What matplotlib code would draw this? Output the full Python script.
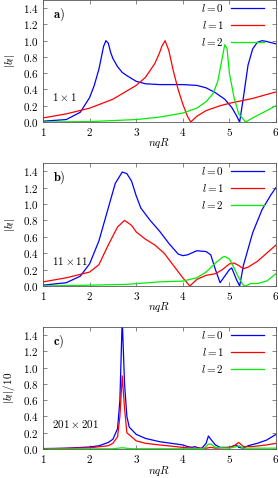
import matplotlib
matplotlib.use("Agg")
import matplotlib.pyplot as plt
from matplotlib.ticker import FuncFormatter, MultipleLocator

plt.rcParams['mathtext.fontset'] = 'cm'
plt.rcParams['font.family'] = ['DejaVu Serif']

# ---- panel a (1x1) ----
a_x0 = [1.0, 1.5, 1.8, 2.0, 2.1, 2.2, 2.3, 2.35, 2.4, 2.45, 2.5, 2.6, 2.7, 2.8, 3.0, 3.2, 3.5, 4.0, 4.3, 4.5, 4.7, 4.9, 5.05, 5.15, 5.22, 5.3, 5.4, 5.5, 5.6, 5.7, 5.8, 6.0]
a_y0 = [0.01, 0.03, 0.12, 0.30, 0.45, 0.65, 0.93, 1.00, 0.97, 0.86, 0.78, 0.68, 0.61, 0.57, 0.50, 0.47, 0.46, 0.46, 0.45, 0.42, 0.36, 0.28, 0.18, 0.08, 0.00, 0.30, 0.70, 0.90, 0.98, 1.00, 0.99, 0.96]
a_x1 = [1.0, 1.5, 2.0, 2.5, 3.0, 3.2, 3.4, 3.5, 3.55, 3.62, 3.7, 3.8, 3.9, 4.0, 4.1, 4.17, 4.3, 4.5, 4.8, 5.0, 5.5, 6.0]
a_y1 = [0.05, 0.10, 0.17, 0.28, 0.45, 0.55, 0.72, 0.85, 0.93, 1.00, 0.88, 0.62, 0.40, 0.22, 0.07, 0.00, 0.07, 0.14, 0.20, 0.23, 0.29, 0.37]
a_x2 = [1.0, 2.0, 3.0, 3.5, 4.0, 4.3, 4.5, 4.65, 4.75, 4.85, 4.9, 4.95, 5.0, 5.1, 5.2, 5.35, 5.5, 5.7, 6.0]
a_y2 = [0.0, 0.005, 0.03, 0.06, 0.11, 0.17, 0.25, 0.35, 0.50, 0.80, 0.95, 0.90, 0.60, 0.30, 0.10, 0.00, 0.05, 0.11, 0.20]

# ---- panel b (11x11) ----
b_x0 = [1.0, 1.5, 1.8, 2.0, 2.2, 2.4, 2.55, 2.7, 2.8, 2.9, 3.0, 3.1, 3.3, 3.5, 3.7, 3.9, 4.0, 4.1, 4.3, 4.5, 4.6, 4.7, 4.8, 4.9, 5.0, 5.05, 5.15, 5.22, 5.3, 5.5, 5.7, 5.9, 6.0]
b_y0 = [0.01, 0.04, 0.12, 0.27, 0.55, 0.95, 1.25, 1.39, 1.37, 1.28, 1.10, 0.95, 0.80, 0.67, 0.52, 0.39, 0.37, 0.38, 0.43, 0.42, 0.38, 0.20, 0.04, 0.12, 0.20, 0.22, 0.08, 0.00, 0.25, 0.65, 0.93, 1.12, 1.20]
b_x1 = [1.0, 1.5, 2.0, 2.2, 2.4, 2.6, 2.75, 2.9, 3.0, 3.2, 3.4, 3.6, 3.8, 4.0, 4.15, 4.3, 4.5, 4.7, 4.85, 5.0, 5.1, 5.2, 5.3, 5.4, 5.6, 5.8, 6.0]
b_y1 = [0.05, 0.10, 0.17, 0.26, 0.50, 0.72, 0.80, 0.74, 0.66, 0.57, 0.50, 0.40, 0.25, 0.10, 0.00, 0.08, 0.13, 0.15, 0.20, 0.27, 0.28, 0.25, 0.21, 0.23, 0.30, 0.40, 0.50]
b_x2 = [1.0, 2.0, 2.8, 3.5, 4.0, 4.3, 4.5, 4.7, 4.85, 4.9, 5.0, 5.1, 5.2, 5.3, 5.35, 5.45, 5.6, 5.8, 6.0]
b_y2 = [0.0, 0.01, 0.02, 0.05, 0.06, 0.10, 0.17, 0.28, 0.35, 0.36, 0.33, 0.22, 0.10, 0.01, 0.00, 0.03, 0.03, 0.06, 0.15]

# ---- panel c (201x201), values are |b_l|/10 ----
c_x0 = [1.0, 1.5, 2.0, 2.2, 2.4, 2.5, 2.6, 2.65, 2.7, 2.75, 2.8, 2.85, 3.0, 3.2, 3.5, 4.0, 4.1, 4.2, 4.25, 4.3, 4.4, 4.5, 4.55, 4.6, 4.7, 4.8, 5.0, 5.15, 5.2, 5.3, 5.4, 5.6, 5.8, 6.0]
c_y0 = [0.005, 0.01, 0.025, 0.04, 0.08, 0.12, 0.25, 0.60, 1.60, 0.80, 0.40, 0.27, 0.18, 0.13, 0.09, 0.05, 0.03, 0.02, 0.03, 0.02, 0.005, 0.07, 0.16, 0.12, 0.05, 0.02, 0.02, 0.05, 0.02, 0.01, 0.04, 0.07, 0.11, 0.18]
c_x1 = [1.0, 2.0, 2.4, 2.5, 2.6, 2.65, 2.7, 2.75, 2.8, 3.0, 3.2, 3.5, 4.0, 4.2, 4.5, 4.6, 4.7, 5.0, 5.1, 5.2, 5.3, 5.5, 5.8, 6.0]
c_y1 = [0.0, 0.015, 0.04, 0.07, 0.15, 0.40, 0.90, 0.50, 0.20, 0.10, 0.07, 0.05, 0.02, 0.01, 0.01, 0.02, 0.01, 0.02, 0.04, 0.08, 0.03, 0.03, 0.05, 0.07]
c_x2 = [1.0, 2.5, 2.7, 2.9, 4.0, 4.45, 4.55, 4.6, 4.7, 5.0, 5.15, 5.2, 5.3, 6.0]
c_y2 = [0.0, 0.003, 0.015, 0.003, 0.003, 0.005, 0.06, 0.06, 0.02, 0.01, 0.03, 0.04, 0.01, 0.01]

labels = ['$l = 0$', '$l = 1$', '$l = 2$']
colors = ['#0000ff', '#ff0000', '#00ee00']
panel_tags = [r'$\mathbf{a)}$', r'$\mathbf{b)}$', r'$\mathbf{c)}$']
sizes = [r'$1\times 1$', r'$11\times 11$', r'$201\times 201$']
ylabels = [r'$|b_l|$', r'$|b_l|$', r'$|b_l|/10$']

panels = [
    [(a_x0, a_y0), (a_x1, a_y1), (a_x2, a_y2)],
    [(b_x0, b_y0), (b_x1, b_y1), (b_x2, b_y2)],
    [(c_x0, c_y0), (c_x1, c_y1), (c_x2, c_y2)],
]

fig = plt.figure(figsize=(2.78, 4.78), dpi=100)
W, H = 278, 478
boxes = [(0, 122), (163, 286), (327, 449)]
left, right = 43, 276
fs = 8
for i, (top, bot) in enumerate(boxes):
    hpx = bot - top
    wpx = right - left
    ax = fig.add_axes([left / W, 1 - bot / H, wpx / W, hpx / H])
    for (xs, ys), lab, col in zip(panels[i], labels, colors):
        ax.plot(xs, ys, color=col, lw=0.9, label=lab)
    ax.set_xlim(1, 6)
    ax.set_ylim(0, 1.5)
    ax.xaxis.set_major_locator(MultipleLocator(1))
    ax.yaxis.set_major_locator(MultipleLocator(0.2))
    ax.xaxis.set_major_formatter(FuncFormatter(lambda v, p: f'${v:.0f}$'))
    ax.yaxis.set_major_formatter(FuncFormatter(lambda v, p: f'${v:.1f}$'))
    ax.tick_params(direction='in', top=True, right=True, length=3, width=0.5,
                   labelsize=fs, pad=3, color='#555555')
    for s in ax.spines.values():
        s.set_linewidth(0.6)
        s.set_color('#555555')
    ax.set_xlabel('$nqR$', fontsize=fs, va='baseline')
    ax.xaxis.set_label_coords(0.5, -24.5 / hpx)
    ax.set_ylabel(ylabels[i], fontsize=fs, labelpad=4)
    ax.text(0.045, 0.88, panel_tags[i], transform=ax.transAxes, fontsize=fs + 1,
            va='center', ha='left')
    ax.text(1.2, 0.31, sizes[i], fontsize=fs, va='center', ha='left')
    ax.legend(loc='upper right', frameon=False, markerfirst=False, fontsize=fs,
              bbox_to_anchor=(1 - 12 / wpx, 1 - 2 / hpx),
              handlelength=3.0, borderaxespad=0.0, borderpad=0.0,
              labelspacing=0.45, handletextpad=0.6)

fig.savefig('out.png', dpi=100)
